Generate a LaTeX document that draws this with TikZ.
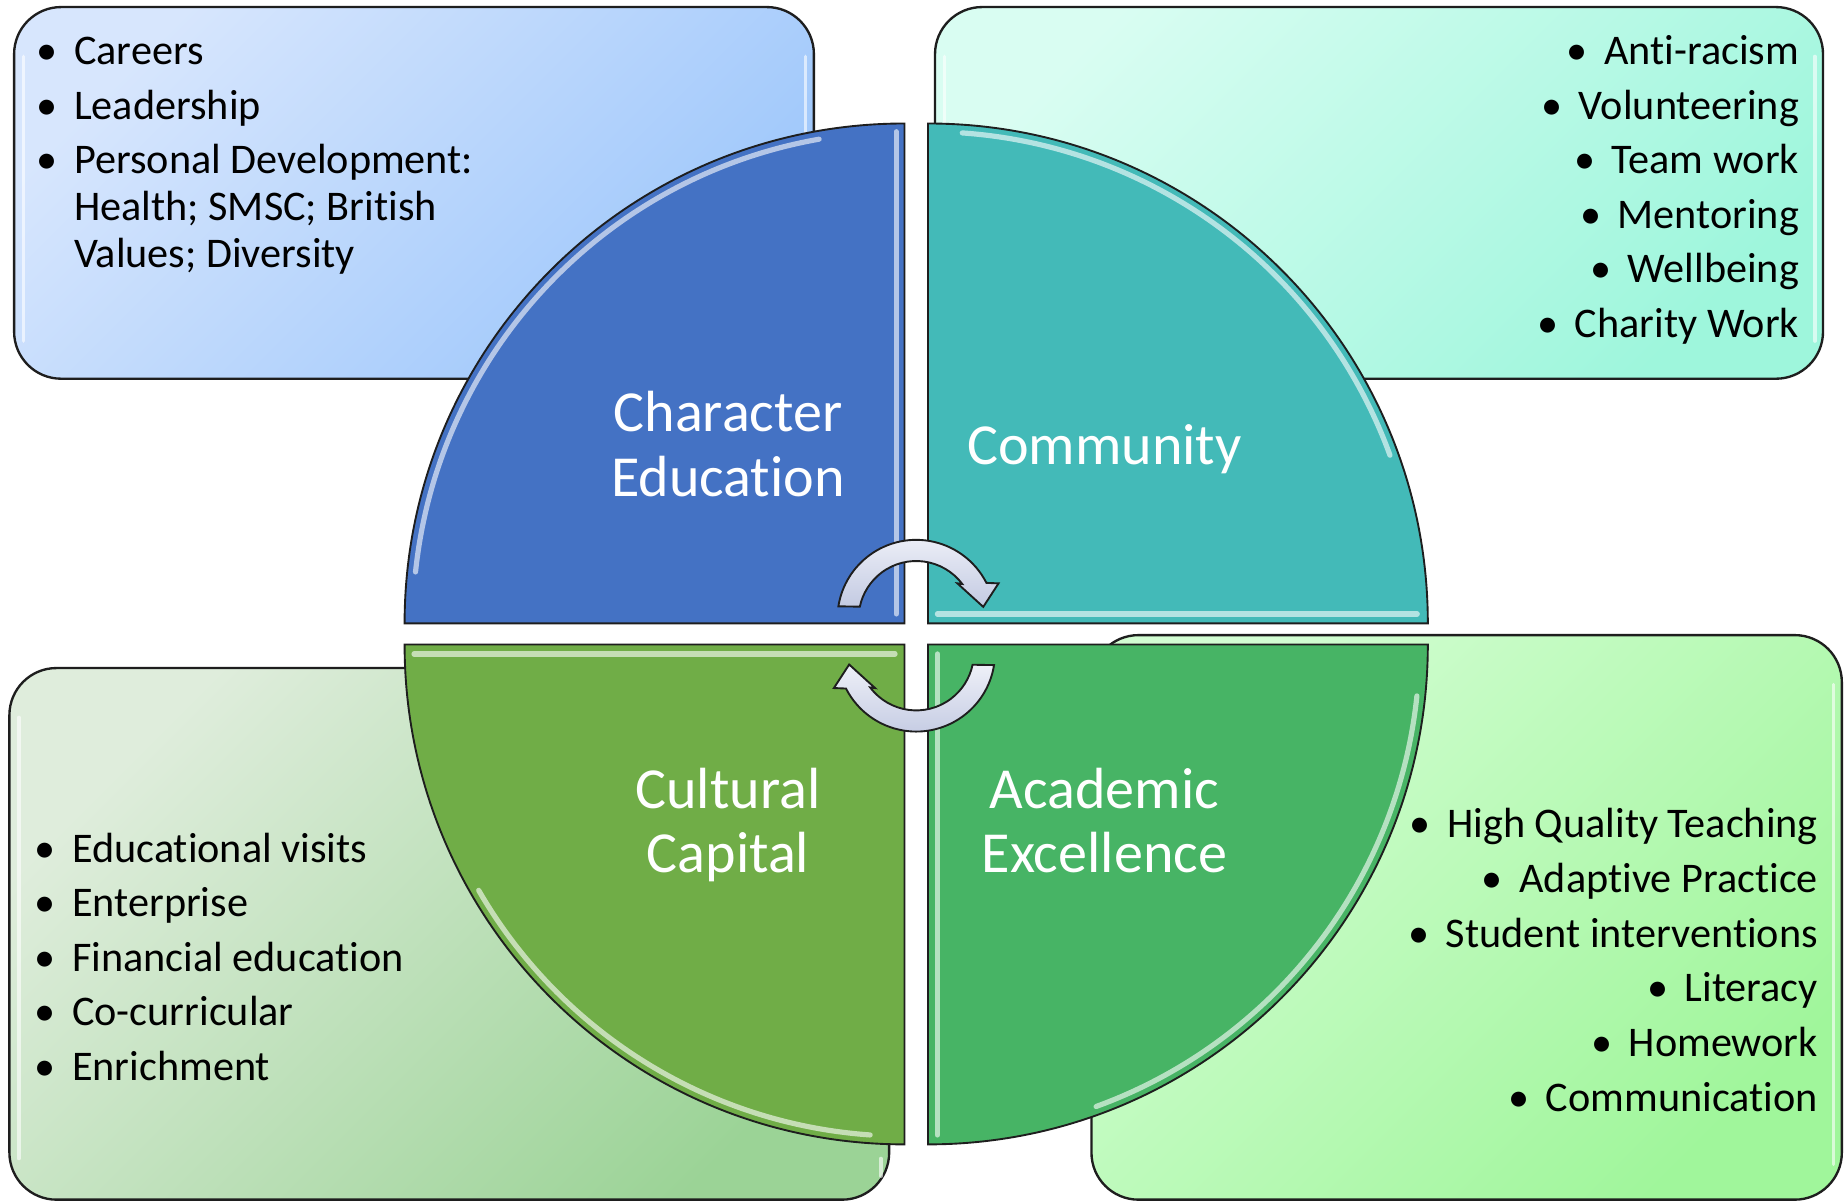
\documentclass[tikz,border=0pt]{standalone}
\usepackage{fontspec}
\setmainfont{Carlito}[Ligatures=NoCommon]
\definecolor{tlA}{HTML}{D7E6FD}\definecolor{tlB}{HTML}{9CC6FB}
\definecolor{trA}{HTML}{D9FDF2}\definecolor{trB}{HTML}{9EF6DC}
\definecolor{blA}{HTML}{DFEDDC}\definecolor{blB}{HTML}{9BD396}
\definecolor{brA}{HTML}{D2FDD2}\definecolor{brB}{HTML}{A0F69B}
\definecolor{qTL}{HTML}{4472C4}\definecolor{qTR}{HTML}{43BAB8}
\definecolor{qBL}{HTML}{70AD47}\definecolor{qBR}{HTML}{47B465}
\definecolor{arrA}{HTML}{EEF0F8}\definecolor{arrB}{HTML}{C3CAE2}
\definecolor{edge}{HTML}{1E1E1E}
\tikzset{
  infobox/.style={draw=edge, line width=1pt, rounded corners=20pt},
  quad/.style={draw=edge, line width=0.8pt},
  hl/.style={draw=white, draw opacity=0.6, line width=2.2pt, line cap=round},
  bhl/.style={draw=white, draw opacity=0.6, line width=1.5pt, line cap=round},
  lbl/.style={text=white, inner sep=0pt, font=\fontsize{24.7}{27.5}\selectfont},
  lst/.style={inner sep=0pt, text=black, font=\fontsize{17.95}{20}\selectfont},
  cyc/.style={draw=edge, line width=0.8pt, top color=arrA, bottom color=arrB}
}
\newcommand{\bul}{\makebox[23pt][c]{\textbullet}}
\begin{document}
\begin{tikzpicture}[x=0.5pt,y=-0.5pt]
\useasboundingbox (0,0) rectangle (1568.7,1022);
\fill[white] (0,0) rectangle (1568.7,1022);
% info boxes
\path[infobox, top color=tlA, bottom color=tlB, shading angle=45] (12,6) rectangle (692,322);
\path[infobox, top color=trA, bottom color=trB, shading angle=45] (795,6) rectangle (1550,322);
\path[infobox, top color=blA, bottom color=blB, shading angle=45] (8,568) rectangle (756,1020);
\path[infobox, top color=brA, bottom color=brB, shading angle=45] (928,540) rectangle (1566,1020);
\draw[bhl] (20,48) -- (20,290); \draw[bhl] (685,48) -- (685,290);
\draw[bhl] (803,48) -- (803,290); \draw[bhl] (1543,48) -- (1543,290);
\draw[bhl] (16,610) -- (16,985); \draw[bhl] (749,985) -- (749,1000);
\draw[bhl] (1559,582) -- (1559,990);
% quadrants
\path[quad, fill=qTL] (769,530) -- ++(-425,0) arc[start angle=-180, end angle=-90, radius=425] -- cycle;
\path[quad, fill=qTR] (789,530) -- ++(0,-425) arc[start angle=-90, end angle=0, radius=425] -- cycle;
\path[quad, fill=qBL] (769,548) -- ++(-425,0) arc[start angle=180, end angle=90, radius=425] -- cycle;
\path[quad, fill=qBR] (789,548) -- ++(425,0) arc[start angle=0, end angle=90, radius=425] -- cycle;
% bevel highlights
\draw[hl] ([shift={(769,530)}]-174:418) arc[start angle=-174, end angle=-100, radius=418];
\draw[hl] (762,112) -- (762,522);
\draw[hl] ([shift={(789,530)}]-86:418) arc[start angle=-86, end angle=-20, radius=418];
\draw[hl] (797,522) -- (1205,522);
\draw[hl] (352,556) -- (761,556);
\draw[hl] ([shift={(769,548)}]150:418) arc[start angle=150, end angle=94, radius=418];
\draw[hl] (797,556) -- (797,965);
\draw[hl] ([shift={(789,548)}]6:418) arc[start angle=6, end angle=70, radius=418];
% cycle arrows
\path[cyc] ([shift={(779,526)}]-171:67) arc[start angle=-171, end angle=-27, radius=67]
  -- (849,496) -- (836,516) -- (814,496) -- ([shift={(779,526)}]-37:49)
  arc[start angle=-37, end angle=-168, radius=49] -- cycle;
\begin{scope}[rotate around={180:(779,540.5)}]
\path[cyc] ([shift={(779,526)}]-171:67) arc[start angle=-171, end angle=-27, radius=67]
  -- (849,496) -- (836,516) -- (814,496) -- ([shift={(779,526)}]-37:49)
  arc[start angle=-37, end angle=-168, radius=49] -- cycle;
\end{scope}
% labels
\node[lbl, anchor=base] (lchar) at (619,367) {\begin{tabular}[t]{@{}c@{}}Character\\Education\end{tabular}};
\node[lbl, anchor=base] (lcomm) at (939,395) {Community};
\node[lbl, anchor=base] (lcult) at (619,687) {\begin{tabular}[t]{@{}c@{}}Cultural\\Capital\end{tabular}};
\node[lbl, anchor=base] (lacad) at (939,687) {\begin{tabular}[t]{@{}c@{}}Academic\\Excellence\end{tabular}};
% lists
\node[lst, anchor=base west] (listtl) at (16.7,55) {\begin{tabular}[t]{@{}l@{}l@{}}
\bul & Careers\\[3.2pt]
\bul & Leadership\\[3.2pt]
\bul & Personal Development:\\
 & Health; SMSC; British\\
 & Values; Diversity
\end{tabular}};
\node[lst, anchor=base east] (listtr) at (1530,55) {\begin{tabular}[t]{@{}r@{}}
\bul Anti-racism\\[3.2pt]
\bul Volunteering\\[3.2pt]
\bul Team work\\[3.2pt]
\bul Mentoring\\[3.2pt]
\bul Wellbeing\\[3.2pt]
\bul Charity Work
\end{tabular}};
\node[lst, anchor=base west] (listbl) at (15,733) {\begin{tabular}[t]{@{}l@{}l@{}}
\bul & Educational visits\\[3.2pt]
\bul & Enterprise\\[3.2pt]
\bul & Financial education\\[3.2pt]
\bul & Co-curricular\\[3.2pt]
\bul & Enrichment
\end{tabular}};
\node[lst, anchor=base east] (listbr) at (1546,712) {\begin{tabular}[t]{@{}r@{}}
\bul High Quality Teaching\\[3.3pt]
\bul Adaptive Practice\\[3.3pt]
\bul Student interventions\\[3.3pt]
\bul Literacy\\[3.3pt]
\bul Homework\\[3.3pt]
\bul Communication
\end{tabular}};
\end{tikzpicture}
\end{document}
